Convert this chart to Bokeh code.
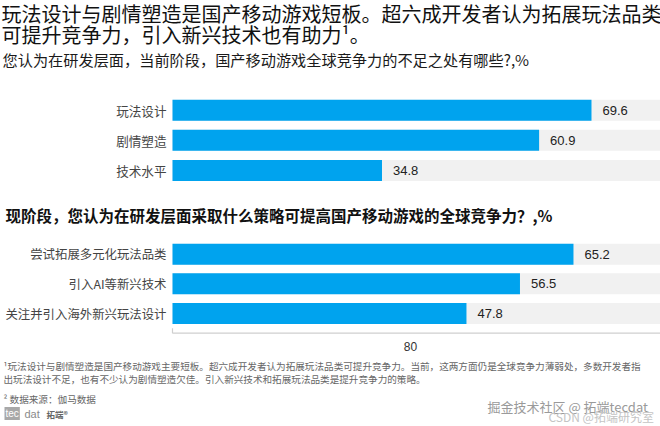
from bokeh.plotting import figure
from bokeh.models import Range1d, Label
from bokeh.core.properties import value
from bokeh.embed import file_html
from bokeh.resources import INLINE

# ---------------- data ----------------
title_lines = [
    "玩法设计与剧情塑造是国产移动游戏短板。超六成开发者认为拓展玩法品类",
    "可提升竞争力，引入新兴技术也有助力¹。",
]
q1_title = "您认为在研发层面，当前阶段，国产移动游戏全球竞争力的不足之处有哪些?,%"
q1_cats = ["玩法设计", "剧情塑造", "技术水平"]
q1_vals = [69.6, 60.9, 34.8]

q2_title = "现阶段，您认为在研发层面采取什么策略可提高国产移动游戏的全球竞争力？,%"
q2_cats = ["尝试拓展多元化玩法品类", "引入AI等新兴技术", "关注并引入海外新兴玩法设计"]
q2_vals = [65.2, 56.5, 47.8]

axis_max = 80
axis_label = "80"

footnotes = [
    "¹玩法设计与剧情塑造是国产移动游戏主要短板。超六成开发者认为拓展玩法品类可提升竞争力。当前，这两方面仍是全球竞争力薄弱处，多数开发者指",
    "出玩法设计不足，也有不少认为剧情塑造欠佳。引入新兴技术和拓展玩法品类是提升竞争力的策略。",
]
source_note = "² 数据来源：伽马数据"
watermark1 = "掘金技术社区 @ 拓端tecdat"
watermark2 = "CSDN @拓端研究室"

# ---------------- styles ----------------
BLUE = "#00A3EE"
TRACK = "#F1F1F1"
CJK_NAME = "Noto Sans CJK SC"
LAT_NAME = "Liberation Sans"
CJK = value(CJK_NAME)
LAT = value(LAT_NAME)

W, H = 660, 426
LEFT = 172           # px of value 0
S1, S2 = 6.02, 6.15  # px per unit for the two panels

p = figure(width=W, height=H, output_backend="svg", toolbar_location=None,
           x_range=Range1d(-LEFT / S1, (W - LEFT) / S1),
           y_range=Range1d(H, 0),
           x_axis_location=None, y_axis_location=None,
           min_border=0, outline_line_color=None,
           background_fill_color="white", border_fill_color="white")
p.extra_x_ranges = {"q2": Range1d(-LEFT / S2, (W - LEFT) / S2)}
p.xgrid.visible = False
p.ygrid.visible = False

def slabel(x, y, text, size, color="#111111", font=CJK_NAME, style="normal", align="left"):
    p.add_layout(Label(x=x, y=y, x_units="screen", y_units="data", text=text,
                       text_font=font, text_font_size=size, text_color=color,
                       text_font_style=style, text_align=align, text_baseline="middle"))

# titles
slabel(1, 13, title_lines[0], "20px")
slabel(1, 34, title_lines[1], "20px")
slabel(2, 58, q1_title, "15.2px", color="#1a1a1a")
slabel(5, 214, q2_title, "15.5px", color="#111111", style="bold")

def panel(cats, vals, y0, step, rng, lab_size, track_end):
    ys = [y0 + i * step for i in range(len(cats))]
    kw = {} if rng is None else {"x_range_name": rng}
    p.hbar(y=ys, left=0, right=[track_end] * len(ys), height=21,
           fill_color=TRACK, line_color=None, **kw)
    p.hbar(y=ys, left=0, right=vals, height=21, fill_color=BLUE, line_color=None, **kw)
    p.text(x=vals, y=ys, text=[f"{v:.1f}" for v in vals], x_offset=11,
           text_baseline="middle", text_font=LAT, text_font_size="13px",
           text_color="#222222", **kw)
    p.text(x=[0] * len(cats), y=ys, text=cats, x_offset=-6, text_align="right",
           text_baseline="middle", text_font=CJK, text_font_size=lab_size,
           text_color="#444444", **kw)
    return ys

panel(q1_cats, q1_vals, 109.7, 30.15, None, "12.6px", (W - LEFT) / S1)
panel(q2_cats, q2_vals, 253.7, 29.65, "q2", "12.4px", axis_max)

# axis under second panel
ay = 332.7
p.segment(x0=[0], y0=[ay], x1=[axis_max], y1=[ay], line_color="#CFCFCF",
          line_width=1.2, x_range_name="q2")
p.segment(x0=[0, axis_max], y0=[ay, ay], x1=[0, axis_max], y1=[ay - 5, ay - 5],
          line_color="#CFCFCF", line_width=1.2, x_range_name="q2")
slabel(410, 346, axis_label, "12px", color="#333333", font=LAT_NAME, align="center")

# footnotes
slabel(3, 365, footnotes[0], "9.6px", color="#666666")
slabel(3, 378, footnotes[1], "9.6px", color="#666666")
slabel(3, 398, source_note, "9.6px", color="#666666")

# logo
p.add_layout(Label(x=4, y=413, x_units="screen", text="tec", text_font=LAT_NAME,
                   text_font_size="10px", text_color="white",
                   background_fill_color="#A8A8A8", border_line_color=None,
                   text_baseline="middle", padding=1))
slabel(24, 413, "dat", "11px", color="#8a8a8a", font=LAT_NAME)
slabel(46, 413, "拓端®", "8.5px", color="#666666", style="bold")

# watermark
slabel(487, 406, watermark1, "13px", color="#9a9a9a")
slabel(548, 416, watermark2, "12px", color="#c4c4c4")

open("out.html", "w").write(file_html(p, INLINE))
